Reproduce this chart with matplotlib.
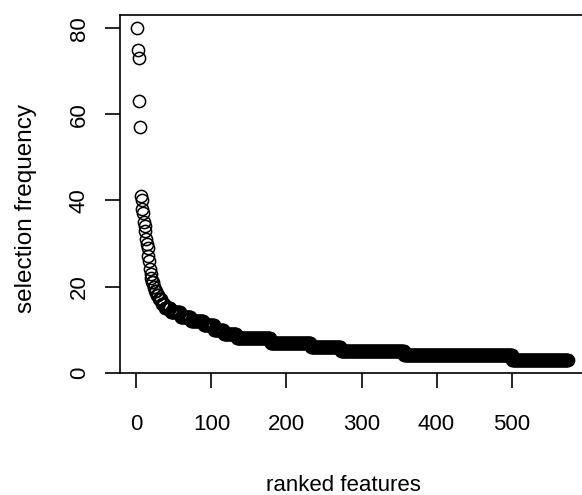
import numpy as np
import matplotlib
matplotlib.use("Agg")
import matplotlib.pyplot as plt

# top ranked features, read one by one
top_values = [80, 75, 73, 63, 57,
              41, 40, 38, 37, 35, 34, 33, 31, 30, 29, 27, 26, 24, 23, 22,
              21, 21, 20, 20, 19, 19, 18, 18, 18, 17, 17, 17, 17, 16, 16, 16, 16,
              15, 15, 15, 15, 15, 15, 15, 15]
# the long tail as (level, number of features)
tail_levels = [14, 13, 12, 11, 10, 9, 8, 7, 6, 5, 4, 3]
tail_counts = [13, 14, 17, 14, 13, 17, 45, 54, 40, 84, 144, 75]

freq = np.array(top_values + list(np.repeat(tail_levels, tail_counts)))
rank = np.arange(1, len(freq) + 1)

plt.rcParams["font.family"] = ["Liberation Sans", "DejaVu Sans"]

fig = plt.figure(figsize=(5.82, 4.95), dpi=100)
ax = fig.add_axes([120 / 582, 122 / 495, 465 / 582, 358 / 495])

ax.plot(rank, freq, "o", mfc="none", mec="black", ms=8.8, mew=1.1)

n = len(freq)
ax.set_xlim(1 - 0.04 * (n - 1), n + 0.04 * (n - 1))
ax.set_ylim(3 - 0.04 * 77, 80 + 0.04 * 77)
ax.set_xticks([0, 100, 200, 300, 400, 500])
ax.set_yticks([0, 20, 40, 60, 80])

for s in ax.spines.values():
    s.set_linewidth(1.2)
ax.tick_params(length=10.8, width=1.2, labelsize=16)
ax.tick_params(axis="x", pad=19)
ax.tick_params(axis="y", pad=11)
for lab in ax.get_yticklabels():
    lab.set_rotation(90)
    lab.set_va("center")

ax.set_xlabel("ranked features", fontsize=16)
ax.set_ylabel("selection frequency", fontsize=17.5)
ax.xaxis.set_label_coords(0.48, -0.285)
ax.yaxis.set_label_coords(-0.178, 0.46)

fig.savefig("out.png", dpi=100)
